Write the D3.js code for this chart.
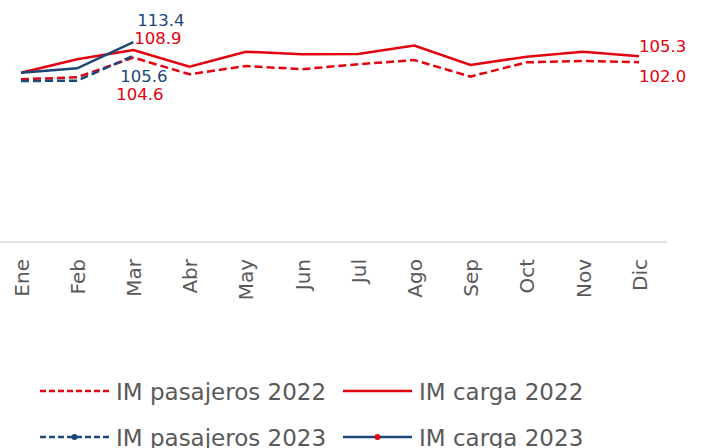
<!DOCTYPE html>
<html>
<head>
<meta charset="utf-8">
<script src="https://cdn.jsdelivr.net/npm/d3@7"></script>
<style>
  body { margin: 0; background: #fff; }
  svg text { font-family: "DejaVu Sans", sans-serif; }
</style>
</head>
<body>
<svg id="chart" width="701" height="448"></svg>
<script>
const months = ["Ene", "Feb", "Mar", "Abr", "May", "Jun", "Jul", "Ago", "Sep", "Oct", "Nov", "Dic"];
const pasajeros2022 = [92.3, 93.4, 104.6, 95.1, 99.8, 98.0, 100.8, 103.2, 93.8, 101.9, 102.7, 102.0];
const carga2022 = [96.0, 103.6, 108.9, 99.4, 107.9, 106.5, 106.6, 111.4, 100.4, 105.1, 107.9, 105.3];
const pasajeros2023 = [91.3, 91.5, 105.6];
const carga2023 = [96.0, 98.5, 113.4];

const red = "#e3000f";
const blue = "#1b4876";
const grey = "#595959";

const svg = d3.select("#chart");

// scales
const x = d3.scalePoint().domain(months).range([21, 639]);
const y = d3.scaleLinear().domain([0, 120]).range([242, 30.4]);

// base axis
svg.append("line")
  .attr("x1", 0).attr("x2", 667)
  .attr("y1", y(0)).attr("y2", y(0))
  .attr("stroke", "#d9d9d9").attr("stroke-width", 1.5);

const xAxis = svg.append("g")
  .attr("transform", "translate(0," + y(0) + ")")
  .call(d3.axisBottom(x).tickSize(0).tickPadding(0));
xAxis.select(".domain").remove();
xAxis.selectAll("text")
  .attr("transform", "rotate(-90)")
  .attr("x", -17).attr("y", 0).attr("dy", "0.36em")
  .style("text-anchor", "end")
  .style("font-family", "DejaVu Sans, sans-serif")
  .style("font-size", "20px")
  .style("fill", grey);

const line = d3.line()
  .x((d, i) => x(months[i]))
  .y(d => y(d));

const series = [
  { data: pasajeros2022, color: red, dash: "8,4" },
  { data: carga2022, color: red, dash: null },
  { data: pasajeros2023, color: blue, dash: "8,4" },
  { data: carga2023, color: blue, dash: null }
];

svg.selectAll("path.serie")
  .data(series)
  .enter()
  .append("path")
  .attr("class", "serie")
  .attr("d", d => line(d.data))
  .attr("fill", "none")
  .attr("stroke", d => d.color)
  .attr("stroke-width", 2.5)
  .attr("stroke-dasharray", d => d.dash);

// data labels
const labels = [
  { text: "113.4", month: "Mar", value: carga2023[2], color: blue, dx: 4, dy: -16 },
  { text: "108.9", month: "Mar", value: carga2022[2], color: red, dx: 1, dy: -6 },
  { text: "105.6", month: "Mar", value: pasajeros2023[2], color: blue, dx: -13, dy: 26 },
  { text: "104.6", month: "Mar", value: pasajeros2022[2], color: red, dx: -17, dy: 42 },
  { text: "105.3", month: "Dic", value: carga2022[11], color: red, dx: 0, dy: -4 },
  { text: "102.0", month: "Dic", value: pasajeros2022[11], color: red, dx: 0, dy: 20 }
];

svg.selectAll("text.lbl")
  .data(labels)
  .enter()
  .append("text")
  .attr("class", "lbl")
  .attr("x", d => x(d.month) + d.dx)
  .attr("y", d => y(d.value) + d.dy)
  .text(d => d.text)
  .style("font-size", "16.5px")
  .style("fill", d => d.color);

// legend
const legendItems = [
  { name: "IM pasajeros 2022", color: red, dash: "6,3", dot: null, x: 40, y: 391 },
  { name: "IM carga 2022", color: red, dash: null, dot: null, x: 343, y: 391 },
  { name: "IM pasajeros 2023", color: blue, dash: "6,3", dot: blue, x: 40, y: 437 },
  { name: "IM carga 2023", color: blue, dash: null, dot: red, x: 343, y: 437 }
];

const lg = svg.selectAll("g.leg")
  .data(legendItems)
  .enter()
  .append("g")
  .attr("class", "leg")
  .attr("transform", d => "translate(" + d.x + "," + d.y + ")");

lg.append("line")
  .attr("x1", 0).attr("x2", 69)
  .attr("stroke", d => d.color)
  .attr("stroke-width", 2.5)
  .attr("stroke-dasharray", d => d.dash);

lg.filter(d => d.dot)
  .append("circle")
  .attr("cx", 34.5).attr("r", 3)
  .attr("fill", d => d.dot);

lg.append("text")
  .attr("x", 76).attr("y", 9)
  .text(d => d.name)
  .style("font-size", "23px")
  .style("fill", grey);
</script>
</body>
</html>
